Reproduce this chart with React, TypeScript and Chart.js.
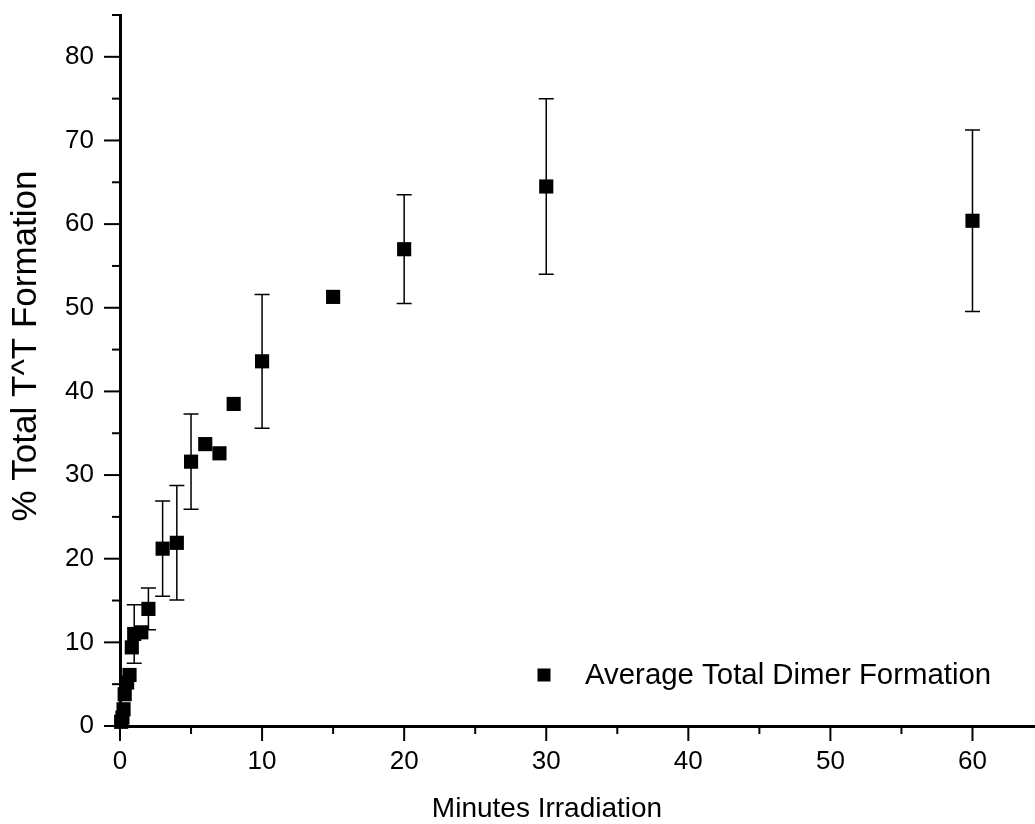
import React, { useEffect, useRef } from "react";
import { Chart, registerables } from "chart.js";

Chart.register(...registerables);

const minutes = [0.08, 0.17, 0.25, 0.33, 0.5, 0.67, 0.83, 1, 1.5, 2, 3, 4, 5, 6, 7, 8, 10, 15, 20, 30, 60];
const dimerPercent = [0.5, 1.0, 2.0, 3.8, 5.2, 6.1, 9.4, 11.0, 11.2, 14.0, 21.2, 21.9, 31.6, 33.7, 32.6, 38.5, 43.6, 51.3, 57.0, 64.5, 60.4];
const dimerError = [0, 0, 0, 0, 0, 0, 0, 3.5, 0, 2.5, 5.7, 6.85, 5.7, 0, 0, 0, 8.0, 0, 6.5, 10.5, 10.85];

const seriesLabel = "Average Total Dimer Formation";
const xTitle = "Minutes Irradiation";
const yTitle = "% Total T^T Formation";

const FONT = "'Liberation Sans', Arial, sans-serif";

const errorBarPlugin = {
  id: "errorBars",
  beforeDatasetsDraw(chart: any) {
    const { ctx } = chart;
    const x = chart.scales.x;
    const y = chart.scales.y;
    ctx.save();
    ctx.strokeStyle = "#000";
    ctx.lineWidth = 1.5;
    minutes.forEach((m, i) => {
      const e = dimerError[i];
      if (!e) return;
      const px = x.getPixelForValue(m);
      const top = y.getPixelForValue(dimerPercent[i] + e);
      const bot = y.getPixelForValue(dimerPercent[i] - e);
      ctx.beginPath();
      ctx.moveTo(px, top);
      ctx.lineTo(px, bot);
      ctx.moveTo(px - 7.5, top);
      ctx.lineTo(px + 7.5, top);
      ctx.moveTo(px - 7.5, bot);
      ctx.lineTo(px + 7.5, bot);
      ctx.stroke();
    });
    ctx.restore();
  },
};

const decorPlugin = {
  id: "decor",
  afterDraw(chart: any) {
    const { ctx } = chart;
    const x = chart.scales.x;
    const y = chart.scales.y;
    ctx.save();
    ctx.strokeStyle = "#000";
    ctx.lineWidth = 2;
    // ticks (major every 10, minor every 5)
    x.ticks.forEach((t: any) => {
      const px = x.getPixelForValue(t.value);
      const len = t.value % 10 === 0 ? 15 : 8;
      ctx.beginPath();
      ctx.moveTo(px, x.top);
      ctx.lineTo(px, x.top + len);
      ctx.stroke();
    });
    y.ticks.forEach((t: any) => {
      const py = y.getPixelForValue(t.value);
      const len = t.value % 10 === 0 ? 16 : 8;
      ctx.beginPath();
      ctx.moveTo(y.right - len, py);
      ctx.lineTo(y.right, py);
      ctx.stroke();
    });

    // axis titles
    ctx.fillStyle = "#000";
    ctx.textAlign = "center";
    ctx.textBaseline = "middle";
    ctx.font = `28px ${FONT}`;
    ctx.fillText(xTitle, 547, 809);
    ctx.save();
    ctx.translate(26, 346);
    ctx.rotate(-Math.PI / 2);
    ctx.font = `35px ${FONT}`;
    ctx.fillText(yTitle, 0, 0);
    ctx.restore();

    // legend
    ctx.fillRect(544 - 6.5, 675 - 6.5, 13, 13);
    ctx.textAlign = "left";
    ctx.font = `29.4px ${FONT}`;
    ctx.fillText(chart.data.datasets[0].label, 585, 676);
    ctx.restore();
  },
};

export default function App() {
  const ref = useRef<HTMLCanvasElement | null>(null);

  useEffect(() => {
    document.body.style.margin = "0";
    const canvas = ref.current;
    if (!canvas) return;
    const chart = new Chart(canvas, {
      type: "scatter",
      data: {
        datasets: [
          {
            label: seriesLabel,
            data: minutes.map((m, i) => ({ x: m, y: dimerPercent[i] })),
            pointStyle: "rect",
            pointRadius: 10,
            pointHoverRadius: 10,
            backgroundColor: "#000",
            borderColor: "#000",
            borderWidth: 0,
            clip: false,
          } as any,
        ],
      },
      options: {
        animation: false,
        responsive: false,
        events: [],
        layout: { autoPadding: false, padding: { top: 15, right: 0, left: 0, bottom: 0 } },
        plugins: {
          legend: { display: false },
          tooltip: { enabled: false },
        },
        scales: {
          x: {
            type: "linear",
            min: 0,
            max: 64.4,
            grid: { display: false, drawTicks: false },
            border: { display: true, color: "#000", width: 3 },
            ticks: {
              stepSize: 5,
              autoSkip: false,
              includeBounds: false,
              padding: 20,
              color: "#000",
              font: { family: FONT, size: 26 },
              maxRotation: 0,
              callback: (v: any) => (Number(v) % 10 === 0 ? String(v) : ""),
            },
            afterFit: (s: any) => {
              s.height = 98;
              s.paddingLeft = 0;
              s.paddingRight = 0;
            },
          },
          y: {
            type: "linear",
            min: 0,
            max: 85,
            grid: { display: false, drawTicks: false },
            border: { display: true, color: "#000", width: 3 },
            ticks: {
              stepSize: 5,
              autoSkip: false,
              padding: 26,
              color: "#000",
              font: { family: FONT, size: 26 },
              callback: (v: any) => (Number(v) % 10 === 0 ? String(v) : ""),
            },
            afterFit: (s: any) => {
              s.width = 120;
              s.paddingTop = 0;
              s.paddingBottom = 0;
            },
          },
        },
      },
      plugins: [errorBarPlugin, decorPlugin],
    });
    return () => chart.destroy();
  }, []);

  return (
    <div style={{ position: "absolute", left: 0, top: 0, width: 1035, height: 824, background: "#fff" }}>
      <canvas ref={ref} width={1035} height={824} style={{ display: "block" }} />
    </div>
  );
}
